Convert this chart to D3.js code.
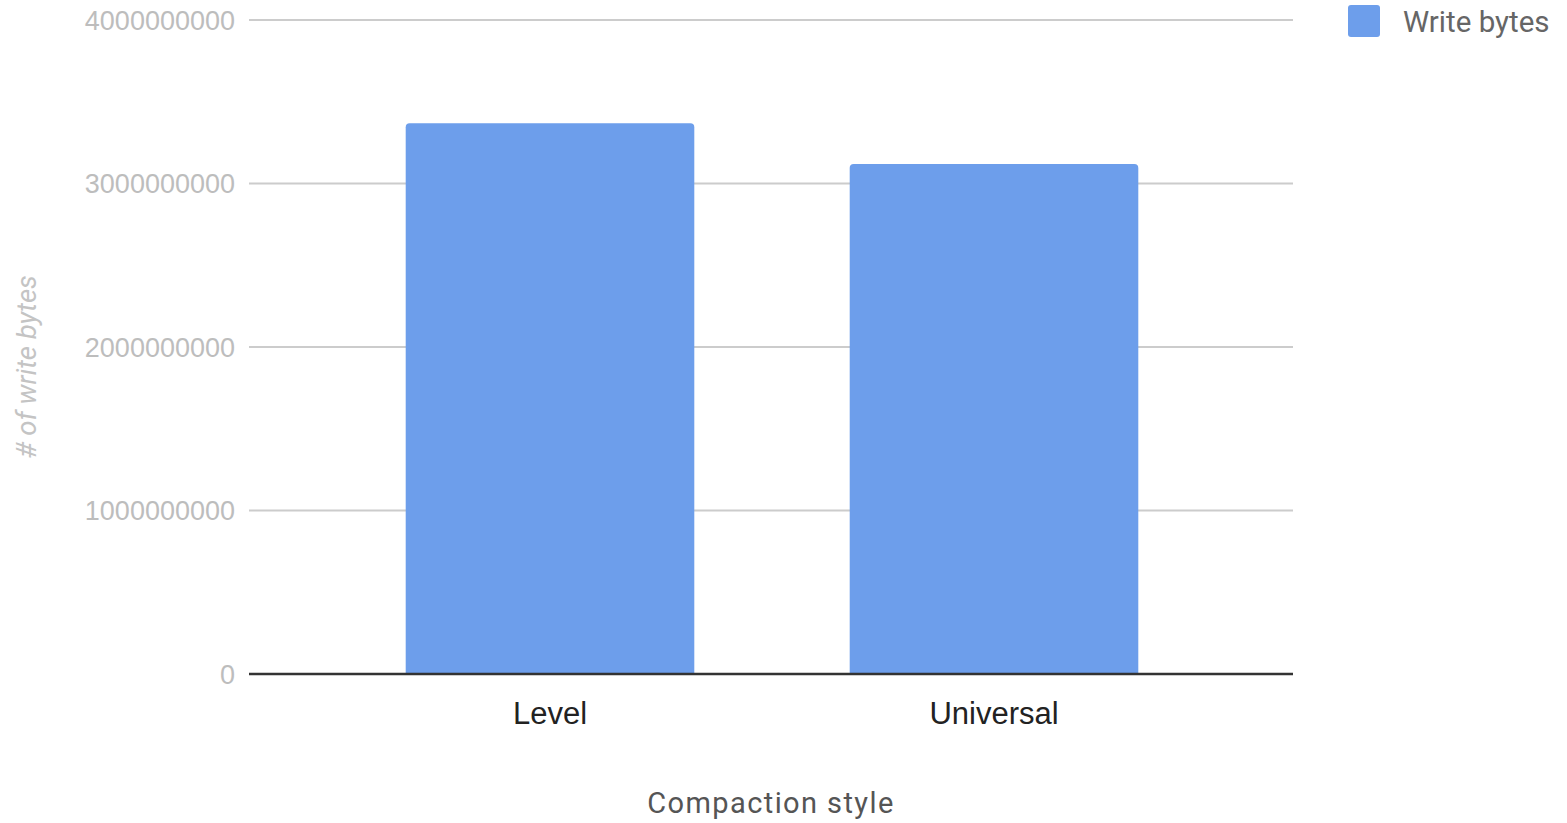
<!DOCTYPE html>
<html>
<head>
<meta charset="utf-8">
<script src="https://cdnjs.cloudflare.com/ajax/libs/d3/7.8.5/d3.min.js"></script>
<style>
  html, body { margin: 0; padding: 0; background: #fff; }
  svg { display: block; font-family: Roboto, "Noto Sans", sans-serif; }
</style>
</head>
<body>
<svg id="chart" width="1567" height="823"></svg>
<script>
// Write bytes per compaction style
const categories = ["Level", "Universal"];
const writeBytes = [3368000000, 3119000000];
const yTicks = [0, 1000000000, 2000000000, 3000000000, 4000000000];
const seriesName = "Write bytes";
const xTitle = "Compaction style";
const yTitle = "# of write bytes";

const svg = d3.select("#chart");
const plot = { left: 249, right: 1293, top: 20, bottom: 674 };
const barColor = "#6d9eeb";

const y = d3.scaleLinear().domain([0, 4000000000]).range([plot.bottom, plot.top]);
const x = d3.scaleBand().domain(categories).range([328, 1216]).paddingInner(0.35).paddingOuter(0.175);

// gridlines and tick labels
const yAxis = d3.axisLeft(y).tickValues(yTicks).tickFormat(d3.format("d")).tickSize(0).tickPadding(14);
const gy = svg.append("g").attr("transform", `translate(${plot.left},0)`).call(yAxis);
gy.select(".domain").remove();
gy.selectAll("text").attr("fill", "#bdbdbd").attr("font-size", 27).attr("dy", "0.35em");
svg.append("g").selectAll("line").data(yTicks.filter(d => d > 0)).join("line")
  .attr("x1", plot.left).attr("x2", plot.right)
  .attr("y1", d => y(d)).attr("y2", d => y(d))
  .attr("stroke", "#cccccc").attr("stroke-width", 2);

// bars with slightly rounded top corners
const r = 4;
svg.append("g").selectAll("path").data(categories).join("path")
  .attr("fill", barColor)
  .attr("d", (c, i) => {
    const x0 = x(c), x1 = x(c) + x.bandwidth();
    const yt = y(writeBytes[i]), yb = y(0);
    return `M${x0},${yb}V${yt + r}Q${x0},${yt} ${x0 + r},${yt}H${x1 - r}Q${x1},${yt} ${x1},${yt + r}V${yb}Z`;
  });

// baseline
svg.append("line").attr("x1", plot.left).attr("x2", plot.right)
  .attr("y1", y(0)).attr("y2", y(0)).attr("stroke", "#333").attr("stroke-width", 2.5);

// category labels
const xAxis = d3.axisBottom(x).tickSize(0).tickPadding(28);
const gx = svg.append("g").attr("transform", `translate(0,${plot.bottom})`).call(xAxis);
gx.select(".domain").remove();
gx.selectAll("text").attr("fill", "#222").attr("font-size", 31).attr("dy", "0.71em");

// axis titles
svg.append("text").attr("x", 771).attr("y", 813).attr("text-anchor", "middle")
  .attr("fill", "#555").attr("font-size", 29).attr("letter-spacing", 1.4).text(xTitle);
svg.append("text").attr("transform", "translate(36,367) rotate(-90)").attr("text-anchor", "middle")
  .attr("fill", "#c4c4c4").attr("font-size", 27.5).attr("font-style", "italic").text(yTitle);

// legend
const lg = svg.append("g").attr("transform", "translate(1348,5)");
lg.append("rect").attr("width", 32).attr("height", 32).attr("rx", 3).attr("fill", barColor);
lg.append("text").attr("x", 55).attr("y", 27)
  .attr("fill", "#666").attr("font-size", 29.5).text(seriesName);
</script>
</body>
</html>
